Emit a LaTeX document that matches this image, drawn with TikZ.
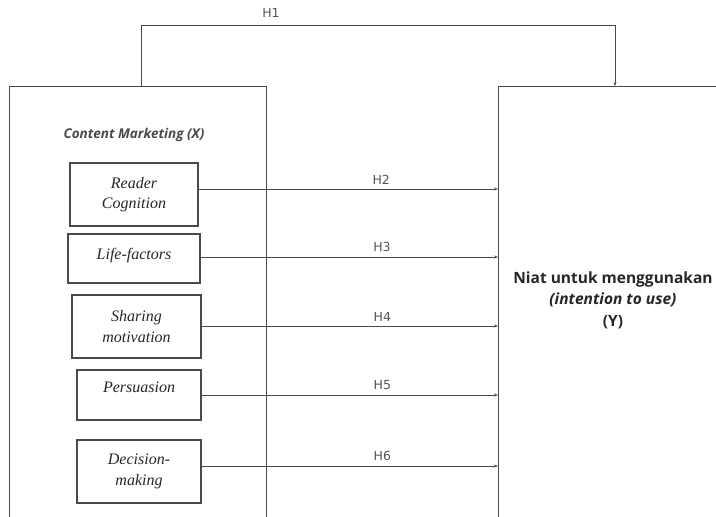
\documentclass[tikz,border=0pt]{standalone}
\usepackage{fontspec}
\setmainfont{Liberation Serif}
\setsansfont{Open Sans}
\newfontfamily\hfont{DejaVu Sans}
\usetikzlibrary{arrows.meta}
\definecolor{ln}{HTML}{4A4A4A}
\definecolor{hl}{HTML}{555555}
\tikzset{
  big/.style={draw=ln, line width=1.3pt, rectangle, inner sep=0pt},
  fac/.style={draw=ln, line width=1.1pt, rectangle, inner sep=0pt, align=center, font=\fontsize{16}{20.5}\selectfont\itshape, text=black!85},
  arr/.style={draw=ln, line width=1pt, -{Stealth[length=4pt,width=3pt]}},
  hlab/.style={font=\hfont\fontsize{12.5}{14}\selectfont, text=hl},
}
\begin{document}
\begin{tikzpicture}[x=1pt,y=-1pt]
\useasboundingbox (0,0) rectangle (716,517);
% containers
\node[big, minimum width=257pt, minimum height=460pt, anchor=north west] (X) at (9,86) {};
\node[big, minimum width=260pt, minimum height=460pt, anchor=north west] (Y) at (498,86) {};
\node[font=\sffamily\bfseries\itshape\fontsize{13.5}{15}\selectfont, text=ln] (xl) at (134,135) {Content Marketing (X)};
\node[font=\sffamily\bfseries\fontsize{15.5}{21.5}\selectfont, align=center, text=black!85] (yl) at (613,300)
  {Niat untuk menggunakan\\ \textit{(intention to use)}\\ (Y)};
% factor boxes
\node[fac, minimum width=128pt, minimum height=63pt] (rc) at (134,194.5) {Reader\\Cognition};
\node[fac, minimum width=132pt, minimum height=49pt, text depth=9pt] (lf) at (134,258.5) {Life-factors};
\node[fac, minimum width=129pt, minimum height=63pt] (sm) at (136.5,326.5) {Sharing\\motivation};
\node[fac, minimum width=124pt, minimum height=50pt, text depth=15pt] (pe) at (139,395) {Persuasion};
\node[fac, minimum width=124pt, minimum height=63pt] (dm) at (139,471.5) {Decision-\\making};
% H1
\coordinate (h1s) at (141,86);
\coordinate (h1e) at (615,86);
\draw[arr] (h1s) -- (141,25) -| (h1e);
\node[hlab] (H1) at (271,13) {H1};
% H2-H6
\draw[arr] (rc.east |- 0,189) -- (Y.west |- 0,189) node[hlab, pos=0.61, above=1pt] (H2) {H2};
\draw[arr] (lf.east |- 0,257) -- (Y.west |- 0,257) node[hlab, pos=0.61, above=1pt] (H3) {H3};
\draw[arr] (sm.east |- 0,326) -- (Y.west |- 0,326) node[hlab, pos=0.61, above=1pt] (H4) {H4};
\draw[arr] (pe.east |- 0,395) -- (Y.west |- 0,395) node[hlab, pos=0.61, above=1pt] (H5) {H5};
\draw[arr] (dm.east |- 0,466) -- (Y.west |- 0,466) node[hlab, pos=0.61, above=1pt] (H6) {H6};
\end{tikzpicture}
\end{document}
